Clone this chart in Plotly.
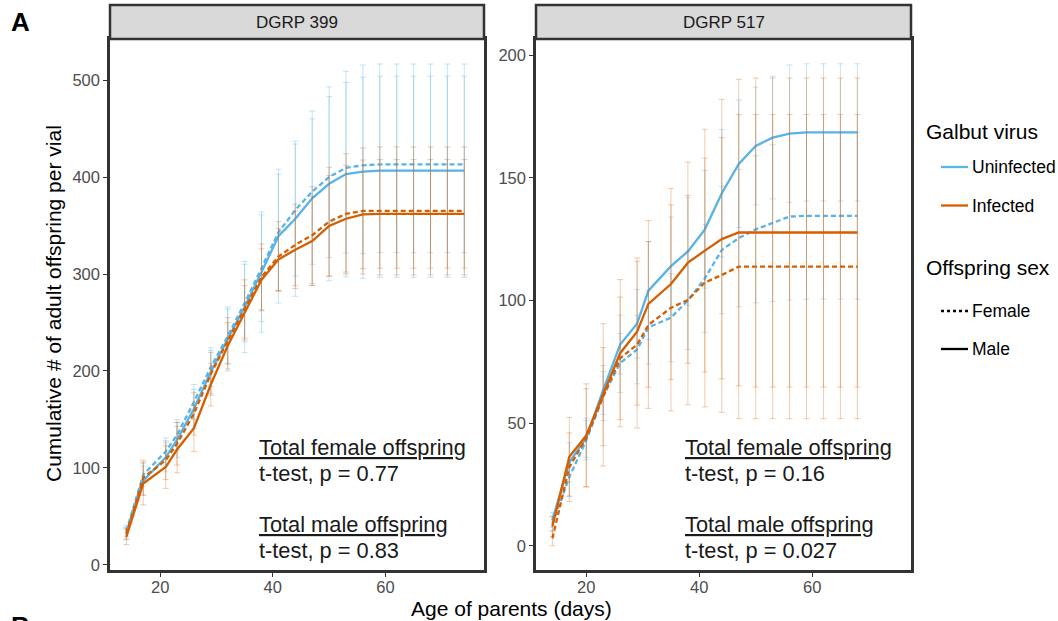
import plotly.graph_objects as go

# ---------------- data ----------------
L_DAYS = [14, 17, 21, 23, 26, 29, 32, 35, 38, 41, 44, 47, 50, 53, 56, 59, 62, 65, 68, 71, 74]
L_UNINF_MALE = [33, 87, 111, 129, 161, 199, 233, 266, 302, 339, 357, 378, 393, 403, 405.5,
                406.5, 406.5, 406.5, 406.5, 406.5, 406.5]
L_UNINF_FEMALE = [35, 93, 117, 134, 168, 204, 236, 270, 306, 343, 366, 385, 400, 409.5, 412,
                  413, 413, 413, 413, 413, 413]
L_INF_FEMALE = [32, 90, 108, 125, 156, 197, 231, 264, 297, 318, 330, 340, 354, 362, 365,
                365, 365, 365, 365, 365, 365]
L_INF_MALE = [29, 84, 101, 119, 141, 186, 226, 260, 294, 315, 325, 334, 349.5, 357, 361.5,
              362, 362, 362, 362, 362, 362]
L_ERR_UNINF_MALE = [6, 15, 15, 18, 20, 22, 33, 47, 62, 69, 80, 90, 100, 106, 110,
                    110, 110, 110, 110, 110, 110]
L_ERR_UNINF_FEMALE = [6, 12, 14, 16, 18, 20, 28, 40, 55, 60, 68, 75, 83, 88, 91,
                      91, 91, 91, 91, 91, 91]
L_ERR_INF_FEMALE = [6, 18, 20, 22, 22, 22, 24, 30, 34, 36, 42, 50, 56, 62, 65,
                    66, 66, 66, 66, 66, 66]
L_ERR_INF_MALE = [8, 22, 22, 24, 24, 22, 24, 28, 32, 32, 40, 46, 52, 55, 56,
                  56, 56, 56, 56, 56, 56]

R_DAYS = [14, 17, 20, 23, 26, 29, 31, 35, 38, 41, 44, 47, 50, 53, 56, 59, 62, 65, 68]
R_UNINF_MALE = [10.5, 34, 44, 63.5, 82, 90.5, 104, 114, 120, 129, 143.7, 155.7, 163, 166.4, 168,
                168.5, 168.5, 168.5, 168.5]
R_UNINF_FEMALE = [9, 28, 43, 61, 74.5, 80, 89, 93, 100, 109, 120.6, 125.4, 129, 131.5, 134.2,
                  134.5, 134.5, 134.5, 134.5]
R_INF_MALE = [7.8, 36.3, 45, 61.5, 78.5, 87.3, 98.6, 106.7, 115.4, 120.3, 125, 127.7,
              127.7, 127.7, 127.7, 127.7, 127.7, 127.7, 127.7]
R_INF_FEMALE = [3, 32, 44, 60.8, 76.4, 82, 90, 97, 100.2, 107.3, 110.4, 113.8,
                113.8, 113.8, 113.8, 113.8, 113.8, 113.8, 113.8]
R_ERR_UNINF_MALE = [3, 8, 8, 10, 12, 14, 20, 20, 22, 24, 26, 26, 24, 25, 28, 28, 28, 28, 28]
R_ERR_UNINF_FEMALE = [3, 8, 8, 10, 12, 14, 15, 18, 20, 22, 26, 28, 30, 32, 34, 34, 34, 34, 34]
R_ERR_INF_MALE = [4, 16, 21, 29, 30, 30, 34, 39, 41, 49.5, 57, 62.5, 63, 63, 63, 63, 63, 63, 63]
R_ERR_INF_FEMALE = [3, 14, 20, 20, 25, 34, 34, 42, 42.7, 50.7, 56, 62, 62, 62, 62, 62, 62, 62, 62]

PANELS = ["DGRP 399", "DGRP 517"]
X_TICKS = [20, 40, 60]
L_Y_TICKS = [0, 100, 200, 300, 400, 500]
R_Y_TICKS = [0, 50, 100, 150, 200]
STATS = {
    "DGRP 399": ["Total female offspring", "t-test, p = 0.77", "Total male offspring", "t-test, p = 0.83"],
    "DGRP 517": ["Total female offspring", "t-test, p = 0.16", "Total male offspring", "t-test, p = 0.027"],
}

# ---------------- style ----------------
W, H = 1058, 621
BLUE = "#56B4E9"
ORANGE = "#D55E00"
BLUE_ERR = "rgba(86,180,233,0.35)"
ORANGE_ERR = "rgba(213,94,0,0.32)"
FONT = "Liberation Sans, Arial, Helvetica, sans-serif"
FRAME = "#333333"


def px(x):
    return x / W


def py(y):
    return 1 - y / H


PANEL_X = [(110, 484), (536, 911)]
PANEL_TOP, PANEL_BOT = 39, 570
STRIP_TOP = 5

fig = go.Figure()


def add_series(days, vals, errs, color, errcolor, dash, xa, ya):
    fig.add_trace(go.Scatter(
        x=days, y=vals, mode="lines", xaxis=xa, yaxis=ya,
        line=dict(color=color, width=2.3, dash=dash),
        error_y=dict(type="data", array=errs, visible=True, color=errcolor,
                     thickness=1, width=3),
        showlegend=False, hoverinfo="skip",
    ))


DASH = "5px,3px"
# left panel
add_series(L_DAYS, L_UNINF_MALE, L_ERR_UNINF_MALE, BLUE, BLUE_ERR, "solid", "x", "y")
add_series(L_DAYS, L_UNINF_FEMALE, L_ERR_UNINF_FEMALE, BLUE, BLUE_ERR, DASH, "x", "y")
add_series(L_DAYS, L_INF_MALE, L_ERR_INF_MALE, ORANGE, ORANGE_ERR, "solid", "x", "y")
add_series(L_DAYS, L_INF_FEMALE, L_ERR_INF_FEMALE, ORANGE, ORANGE_ERR, DASH, "x", "y")
# right panel
add_series(R_DAYS, R_UNINF_MALE, R_ERR_UNINF_MALE, BLUE, BLUE_ERR, "solid", "x2", "y2")
add_series(R_DAYS, R_UNINF_FEMALE, R_ERR_UNINF_FEMALE, BLUE, BLUE_ERR, DASH, "x2", "y2")
add_series(R_DAYS, R_INF_MALE, R_ERR_INF_MALE, ORANGE, ORANGE_ERR, "solid", "x2", "y2")
add_series(R_DAYS, R_INF_FEMALE, R_ERR_INF_FEMALE, ORANGE, ORANGE_ERR, DASH, "x2", "y2")

axis_common = dict(
    showgrid=False, zeroline=False, showline=True, mirror=True,
    linecolor=FRAME, linewidth=2.5, ticks="outside", ticklen=4,
    tickcolor=FRAME, tickwidth=1,
    tickfont=dict(family=FONT, size=16.5, color="#4d4d4d"),
    automargin=False,
)
X_RANGE = [11.1, 77.5]
fig.update_layout(
    width=W, height=H,
    margin=dict(l=0, r=0, t=0, b=0),
    paper_bgcolor="white", plot_bgcolor="white",
    showlegend=False,
    font=dict(family=FONT),
    xaxis=dict(domain=[px(PANEL_X[0][0]), px(PANEL_X[0][1])], range=X_RANGE,
               tickvals=X_TICKS, anchor="y", ticklabelstandoff=-4, **axis_common),
    yaxis=dict(domain=[py(PANEL_BOT), py(PANEL_TOP)], range=[-5.2, 542.3],
               tickvals=L_Y_TICKS, anchor="x", **axis_common),
    xaxis2=dict(domain=[px(PANEL_X[1][0]), px(PANEL_X[1][1])], range=X_RANGE,
                tickvals=X_TICKS, anchor="y2", ticklabelstandoff=-4, **axis_common),
    yaxis2=dict(domain=[py(PANEL_BOT), py(PANEL_TOP)], range=[-9.9, 206.6],
                tickvals=R_Y_TICKS, anchor="x2", **axis_common),
)

shapes = []
annots = []
for i, name in enumerate(PANELS):
    x0, x1 = PANEL_X[i]
    shapes.append(dict(type="rect", xref="paper", yref="paper",
                       x0=px(x0), x1=px(x1), y0=py(PANEL_TOP), y1=py(STRIP_TOP),
                       fillcolor="#d9d9d9", line=dict(color=FRAME, width=2.5), layer="above"))
    annots.append(dict(text=name, xref="paper", yref="paper", x=px((x0 + x1) / 2),
                       y=py((PANEL_TOP + STRIP_TOP) / 2), xanchor="center", yanchor="middle",
                       showarrow=False, font=dict(family=FONT, size=17, color="#1a1a1a")))
    # statistics text
    left = [257, 683][i]
    ys = [447, 474, 524, 550]
    for j, line in enumerate(STATS[name]):
        txt = f"<u>{line}</u>" if j in (0, 2) else line
        annots.append(dict(text=txt, xref="paper", yref="paper", x=px(left), y=py(ys[j]),
                           xanchor="left", yanchor="middle", showarrow=False,
                           font=dict(family=FONT, size=21.8, color="#1a1a1a")))

# axis titles
annots.append(dict(text="Age of parents (days)", xref="paper", yref="paper",
                   x=px(511), y=py(608), xanchor="center", yanchor="middle", showarrow=False,
                   font=dict(family=FONT, size=21, color="black")))
annots.append(dict(text="Cumulative # of adult offspring per vial", xref="paper", yref="paper",
                   x=px(54), y=py(304), xanchor="center", yanchor="middle", showarrow=False,
                   textangle=-90, font=dict(family=FONT, size=21, color="black")))
# panel letters
annots.append(dict(text="<b>A</b>", xref="paper", yref="paper", x=px(9), y=py(22),
                   xanchor="left", yanchor="middle", showarrow=False,
                   font=dict(family=FONT, size=26, color="black")))
annots.append(dict(text="<b>B</b>", xref="paper", yref="paper", x=px(9), y=py(626),
                   xanchor="left", yanchor="middle", showarrow=False,
                   font=dict(family=FONT, size=26, color="black")))

# legend (manual)
LEG_X0, LEG_X1, LEG_TXT = 941, 968, 970
annots.append(dict(text="Galbut virus", xref="paper", yref="paper", x=px(924), y=py(131),
                   xanchor="left", yanchor="middle", showarrow=False,
                   font=dict(family=FONT, size=21, color="black")))
annots.append(dict(text="Offspring sex", xref="paper", yref="paper", x=px(924), y=py(267),
                   xanchor="left", yanchor="middle", showarrow=False,
                   font=dict(family=FONT, size=21, color="black")))
legend_items = [("Uninfected", 167, BLUE, "solid"), ("Infected", 205.5, ORANGE, "solid"),
                ("Female", 311, "black", "dot"), ("Male", 349, "black", "solid")]
for label, yy, col, dash in legend_items:
    shapes.append(dict(type="line", xref="paper", yref="paper", x0=px(LEG_X0), x1=px(LEG_X1),
                       y0=py(yy), y1=py(yy), line=dict(color=col, width=2.3, dash=dash)))
    annots.append(dict(text=label, xref="paper", yref="paper", x=px(LEG_TXT), y=py(yy),
                       xanchor="left", yanchor="middle", showarrow=False,
                       font=dict(family=FONT, size=17.5, color="black")))

fig.update_layout(shapes=shapes, annotations=annots)
fig.write_html("out.html")
